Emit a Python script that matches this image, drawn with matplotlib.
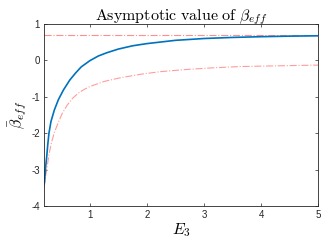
import numpy as np
import matplotlib.pyplot as plt

plt.rcParams['mathtext.fontset'] = 'cm'
plt.rcParams['axes.unicode_minus'] = False
plt.rcParams['font.family'] = ['Liberation Sans', 'DejaVu Sans']

# asymptote
beta_inf = 0.69

# blue curve
e3_blue = [0.20, 0.21, 0.225, 0.245, 0.265, 0.285, 0.32, 0.38, 0.45, 0.54, 0.65, 0.75, 0.85,
           1.0, 1.15, 1.3, 1.5, 1.75, 2.0, 2.5, 3.0, 3.5, 4.0, 4.5, 5.0]
beta_blue = [-3.4, -3.3, -2.95, -2.65, -2.3, -2.0, -1.68, -1.36, -1.08, -0.81, -0.54, -0.35, -0.18,
             -0.01, 0.12, 0.21, 0.31, 0.40, 0.46, 0.55, 0.60, 0.63, 0.65, 0.665, 0.675]

# lower red dash-dot curve
e3_red = [0.20, 0.21, 0.23, 0.25, 0.29, 0.33, 0.38, 0.45, 0.52, 0.60, 0.70, 0.80, 0.90, 1.0,
          1.25, 1.53, 1.9, 2.24, 2.7, 3.1, 3.63, 4.3, 5.0]
beta_red = [-3.5, -3.38, -3.15, -2.95, -2.55, -2.25, -1.98, -1.70, -1.45, -1.24, -1.04, -0.90, -0.80, -0.72,
            -0.58, -0.48, -0.38, -0.31, -0.25, -0.21, -0.17, -0.15, -0.13]

fig = plt.figure(figsize=(3.22, 2.42), dpi=100)
ax = fig.add_axes([0.137, 0.149, 0.851, 0.752])

red = (1.0, 0.45, 0.45)
ax.plot([0.2, 5.0], [beta_inf, beta_inf], color=red, lw=0.8, ls='-.', alpha=0.8)
ax.plot(e3_red, beta_red, color=red, lw=0.8, ls='-.', alpha=0.7)
ax.plot(e3_blue, beta_blue, color='#0072BD', lw=1.2)

ax.set_xlim(0.2, 5)
ax.set_ylim(-4, 1)
ax.set_xticks([1, 2, 3, 4, 5])
ax.set_yticks([-4, -3, -2, -1, 0, 1])
ax.tick_params(direction='in', length=2.5, width=0.5, labelsize=7, colors='0.15',
               top=True, right=True, pad=3)
for s in ax.spines.values():
    s.set_linewidth(0.6)
    s.set_color('0.15')

ax.set_title(r'$\mathrm{Asymptotic\ value\ of\ }\beta_{eff}$', fontsize=11.5, pad=3)
ax.set_xlabel(r'$E_3$', fontsize=11.5, labelpad=1)
ax.set_ylabel(r'$\bar{\beta}_{eff}$', fontsize=11.5, labelpad=2)

fig.savefig('out.png', dpi=100)
